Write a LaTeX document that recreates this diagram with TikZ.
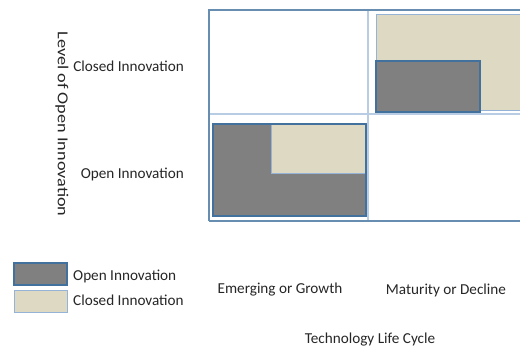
\documentclass[tikz,border=0pt]{standalone}
\usepackage{fontspec}
\setmainfont{Carlito}
\usetikzlibrary{calc}

\definecolor{opengray}{HTML}{808080}
\definecolor{closedtan}{HTML}{DDD9C3}
\definecolor{edgeblue}{HTML}{41719C}
\definecolor{gridblue}{HTML}{B8CCE4}
\definecolor{softblue}{HTML}{95B3D7}

\tikzset{
	lbl/.style={font=\fontsize{15.2}{17}\selectfont, text=black!85, inner sep=0pt},
	openfill/.style={fill=opengray, draw=edgeblue, line width=1.6pt},
	closedfill/.style={fill=closedtan, draw=softblue, line width=1pt},
	gridline/.style={draw=gridblue, line width=1.6pt},
	frameline/.style={draw=edgeblue!80, line width=2pt}
}

\begin{document}
\begin{tikzpicture}[x=1pt,y=-1pt]
	\useasboundingbox (0,0) rectangle (520,352);
	\begin{scope}
	\clip (0,0) rectangle (520,352);
	% quadrant grid
	\draw[gridline] (368,10) -- (368,221);
	\draw[gridline] (209,114) -- (530,114);
	\draw[frameline] (209,221) -- (209,10) -- (530,10);
	\draw[frameline] (209,221) -- (530,221);
	% maturity, closed innovation
	\draw[closedfill] (376,15) rectangle (530,111);
	\draw[openfill] (376,61) rectangle (480,112);
	% emerging, open innovation
	\draw[openfill] (213,124) rectangle (366,216);
	\draw[closedfill] (271,124) rectangle (366,174);
	\draw[draw=edgeblue, line width=1.6pt] (213,124) rectangle (366,216);
	\end{scope}
	% legend
	\draw[openfill] (14,263) rectangle (67,285);
	\draw[closedfill] (14,291) rectangle (67,313);
	\node[lbl, anchor=west] (legopen) at (73,276) {Open Innovation};
	\node[lbl, anchor=west] (legclosed) at (73,300) {Closed Innovation};
	% axis labels
	\node[lbl, anchor=east] (rowclosed) at (184,66) {Closed Innovation};
	\node[lbl, anchor=east] (rowopen) at (184,174) {Open Innovation};
	\node[lbl, rotate=-90] (yaxis) at (62,124) {\scalebox{1.2}[1]{Level of Open Innovation}};
	\node[lbl] (colemerg) at (280,290) {Emerging or Growth};
	\node[lbl] (colmature) at (446,290) {Maturity or Decline};
	\node[lbl] (xaxis) at (370,340) {Technology Life Cycle};
\end{tikzpicture}
\end{document}
